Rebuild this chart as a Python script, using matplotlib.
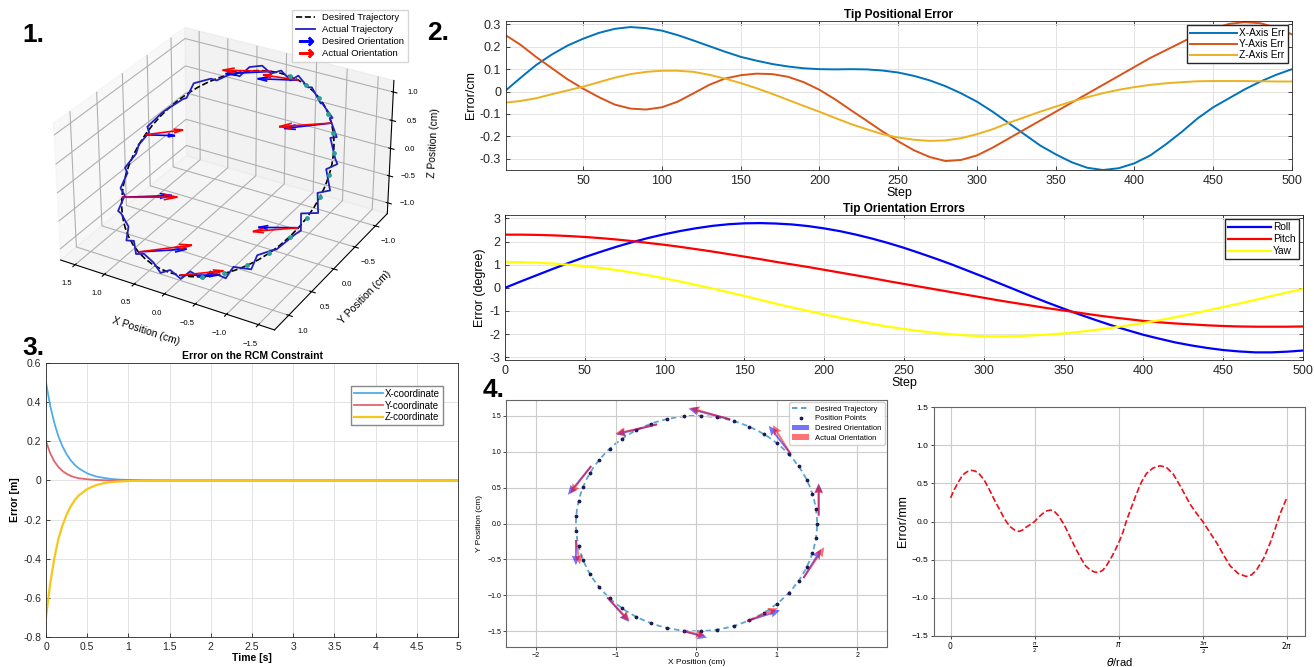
import matplotlib.pyplot as plt
import numpy as np
from matplotlib.lines import Line2D
from matplotlib.ticker import FuncFormatter

plt.rcParams['font.family'] = ['Liberation Sans', 'DejaVu Sans']

# ---------------- data ----------------
# panel 1: 3D circle (radius 1.5, plane tilted about x), sampled angles in degrees
traj_deg = [0, 6, 12, 18, 24, 30, 36, 42, 48, 54, 60, 66, 72, 78, 84, 90, 96, 102, 108, 114,
            120, 126, 132, 138, 144, 150, 156, 162, 168, 174, 180, 186, 192, 198, 204, 210,
            216, 222, 228, 234, 240, 246, 252, 258, 264, 270, 276, 282, 288, 294, 300, 306,
            312, 318, 324, 330, 336, 342, 348, 354, 360]
traj_radius = 1.5
traj_y_amp = 1.18
traj_z_amp = 0.92
# zig-zag deviation of the actual trajectory (cm)
act_dr = [0.00, -0.07, 0.09, -0.04, 0.08, -0.09, 0.03, 0.10, -0.06, 0.07, -0.08, 0.04, 0.09,
          -0.05, 0.06, -0.10, 0.08, -0.03, 0.09, -0.06, 0.05, -0.08, 0.10, -0.04, 0.07, -0.07,
          0.03, 0.09, -0.05, 0.08, -0.04, 0.07, -0.09, 0.04, 0.10, -0.06, 0.05, -0.03, 0.09,
          -0.07, 0.04, -0.10, 0.07, -0.03, 0.09, -0.05, 0.08, -0.08, 0.04, 0.10, -0.04, 0.06,
          -0.09, 0.03, 0.08, -0.06, 0.05, -0.04, 0.07, -0.05, 0.00]
act_dz = [0.00, 0.06, -0.05, 0.08, -0.07, 0.04, -0.09, 0.05, 0.07, -0.06, 0.03, -0.08, 0.06,
          0.09, -0.04, 0.05, -0.07, 0.08, -0.03, 0.06, -0.09, 0.04, -0.05, 0.08, -0.06, 0.07,
          -0.08, 0.03, 0.09, -0.05, 0.06, -0.07, 0.05, -0.04, 0.08, -0.09, 0.06, 0.07, -0.05,
          0.04, -0.08, 0.06, -0.03, 0.09, -0.06, 0.05, -0.07, 0.04, 0.08, -0.05, 0.07, -0.09,
          0.03, 0.06, -0.08, 0.05, -0.04, 0.07, -0.06, 0.04, 0.00]
teal_deg = [96, 108, 120, 132, 144, 156, 168, 180, 192, 204, 216, 228, 240, 252]
# orientation arrows: angle on circle, desired (dx, dy, dz), actual (dx, dy, dz)
arrow_deg = [84, 102, 138, 198, 6, 330, 294, 264]
arrow_des = [(0.55, 0.30, 0.00), (0.50, 0.25, 0.05), (0.55, 0.30, -0.05), (0.45, 0.25, 0.05),
             (-0.35, -0.20, -0.05), (-0.60, -0.30, 0.00), (-0.55, -0.30, 0.00), (-0.45, -0.20, 0.00)]
arrow_act = [(0.60, 0.30, 0.05), (0.45, 0.20, 0.10), (0.60, 0.35, 0.00), (0.50, 0.30, 0.00),
             (-0.45, -0.25, 0.05), (-0.65, -0.35, -0.05), (-0.60, -0.35, 0.05), (-0.50, -0.25, 0.05)]

# panel 2: tip errors (every 10 steps)
steps = list(range(0, 501, 10))
x_err = [0.0, 0.06, 0.118, 0.165, 0.205, 0.236, 0.262, 0.28, 0.288, 0.283, 0.272, 0.252,
         0.228, 0.203, 0.178, 0.155, 0.138, 0.123, 0.112, 0.104, 0.100, 0.099, 0.100, 0.099,
         0.094, 0.085, 0.070, 0.050, 0.024, -0.008, -0.045, -0.09, -0.14, -0.19, -0.24,
         -0.28, -0.315, -0.34, -0.35, -0.342, -0.32, -0.285, -0.235, -0.18, -0.12, -0.07,
         -0.03, 0.01, 0.045, 0.075, 0.10]
y_err = [0.255, 0.21, 0.155, 0.105, 0.055, 0.013, -0.025, -0.058, -0.076, -0.08, -0.07,
         -0.045, -0.008, 0.03, 0.058, 0.073, 0.08, 0.078, 0.066, 0.042, 0.008, -0.035, -0.083,
         -0.13, -0.178, -0.222, -0.262, -0.292, -0.31, -0.305, -0.285, -0.25, -0.21, -0.17,
         -0.13, -0.09, -0.05, -0.01, 0.03, 0.07, 0.11, 0.15, 0.185, 0.22, 0.255, 0.28, 0.302,
         0.31, 0.305, 0.285, 0.255]
z_err = [-0.05, -0.042, -0.03, -0.012, 0.005, 0.022, 0.042, 0.062, 0.078, 0.088, 0.093,
         0.093, 0.088, 0.075, 0.058, 0.038, 0.015, -0.01, -0.037, -0.064, -0.09, -0.118,
         -0.145, -0.168, -0.19, -0.205, -0.215, -0.22, -0.218, -0.208, -0.19, -0.168, -0.14,
         -0.115, -0.09, -0.067, -0.045, -0.025, -0.007, 0.008, 0.02, 0.03, 0.037, 0.042,
         0.046, 0.047, 0.047, 0.047, 0.046, 0.045, 0.045]
roll = [0.0, 0.28, 0.55, 0.82, 1.08, 1.33, 1.56, 1.78, 1.98, 2.16, 2.32, 2.46, 2.58, 2.68,
        2.75, 2.79, 2.8, 2.78, 2.74, 2.67, 2.57, 2.45, 2.3, 2.13, 1.94, 1.73, 1.5, 1.26, 1.01,
        0.74, 0.47, 0.19, -0.09, -0.37, -0.64, -0.9, -1.15, -1.39, -1.62, -1.83, -2.03, -2.2,
        -2.36, -2.49, -2.6, -2.69, -2.75, -2.79, -2.79, -2.76, -2.71]
pitch = [2.3, 2.3, 2.29, 2.27, 2.24, 2.2, 2.15, 2.09, 2.02, 1.94, 1.86, 1.77, 1.67, 1.57,
         1.46, 1.35, 1.24, 1.12, 1.01, 0.9, 0.78, 0.66, 0.54, 0.42, 0.29, 0.17, 0.05, -0.07,
         -0.19, -0.31, -0.43, -0.55, -0.66, -0.77, -0.88, -0.98, -1.08, -1.18, -1.27, -1.35,
         -1.43, -1.49, -1.54, -1.58, -1.62, -1.65, -1.67, -1.68, -1.68, -1.68, -1.67]
yaw = [1.12, 1.11, 1.09, 1.05, 1.0, 0.94, 0.86, 0.77, 0.66, 0.54, 0.41, 0.27, 0.12, -0.03,
       -0.19, -0.35, -0.52, -0.69, -0.85, -1.0, -1.15, -1.29, -1.43, -1.56, -1.68, -1.78,
       -1.87, -1.95, -2.01, -2.06, -2.09, -2.1, -2.09, -2.06, -2.02, -1.97, -1.9, -1.82,
       -1.73, -1.63, -1.52, -1.4, -1.27, -1.13, -0.98, -0.83, -0.68, -0.52, -0.36, -0.2,
       -0.05]

# panel 3: RCM constraint error
t_rcm = [0, 0.05, 0.1, 0.15, 0.2, 0.25, 0.3, 0.35, 0.4, 0.5, 0.6, 0.7, 0.8, 0.9, 1.0, 1.2,
         1.5, 5.0]
x_rcm = [0.5, 0.384, 0.295, 0.226, 0.174, 0.134, 0.103, 0.079, 0.061, 0.036, 0.021, 0.013,
         0.007, 0.004, 0.003, 0.001, 0.0, 0.0]
y_rcm = [0.2, 0.14, 0.098, 0.069, 0.048, 0.034, 0.023, 0.016, 0.011, 0.006, 0.003, 0.001,
         0.0, 0.0, 0.0, 0.0, 0.0, 0.0]
z_rcm = [-0.7, -0.53, -0.40, -0.30, -0.23, -0.175, -0.132, -0.10, -0.076, -0.044, -0.025,
         -0.014, -0.008, -0.005, -0.003, -0.001, 0.0, 0.0]

# panel 4 left: xy circle, position points and orientation arrows
pos_deg = [0, 8, 16, 24, 32, 40, 48, 56, 64, 72, 80, 88, 96, 104, 112, 120, 128, 136, 144,
           152, 160, 168, 176, 184, 192, 200, 208, 216, 224, 232, 240, 248, 256, 264, 272,
           280, 288, 296, 304, 312, 320, 328, 336, 344, 352]
q_x = [0.42, -0.49, -1.31, -1.50, -1.11, -0.16, 0.63, 1.33, 1.52, 1.17]
q_y = [1.45, 1.38, 0.80, -0.23, -1.03, -1.50, -1.36, -0.76, 0.11, 0.97]
des_u = [-0.52, -0.51, -0.29, 0.0, 0.27, 0.29, 0.41, 0.22, 0.0, -0.27]
des_v = [0.15, -0.14, -0.40, -0.35, -0.34, -0.09, 0.15, 0.40, 0.45, 0.39]
act_u = [-0.50, -0.52, -0.26, 0.05, 0.28, 0.27, 0.38, 0.26, 0.0, -0.22]
act_v = [0.16, -0.13, -0.38, -0.34, -0.33, -0.06, 0.18, 0.43, 0.44, 0.40]

# panel 4 right: error along the circle
theta_pts = [0.0, 0.07, 0.14, 0.2, 0.26, 0.33, 0.39, 0.46, 0.54, 0.63, 0.73, 0.82, 0.92,
             1.01, 1.10, 1.19, 1.28, 1.35, 1.42, 1.50, 1.57, 1.65, 1.73, 1.80, 1.87, 1.94,
             2.01, 2.12, 2.23, 2.34, 2.45, 2.52, 2.60, 2.68, 2.76, 2.84, 2.91, 3.02, 3.14,
             3.22, 3.29, 3.38, 3.47, 3.56, 3.66, 3.78, 3.91, 4.03, 4.16, 4.31, 4.47, 4.59,
             4.71, 4.84, 4.97, 5.10, 5.22, 5.37, 5.52, 5.62, 5.72, 5.85, 5.97, 6.07, 6.16,
             6.22, 6.28]
err_mm = [0.31, 0.42, 0.51, 0.58, 0.63, 0.66, 0.67, 0.66, 0.62, 0.54, 0.41, 0.28, 0.15,
          0.03, -0.06, -0.11, -0.13, -0.11, -0.07, -0.035, 0.0, 0.06, 0.11, 0.14, 0.15, 0.13,
          0.08, -0.04, -0.20, -0.36, -0.50, -0.58, -0.63, -0.66, -0.67, -0.64, -0.58, -0.45,
          -0.28, -0.14, 0.02, 0.19, 0.36, 0.51, 0.63, 0.70, 0.73, 0.71, 0.62, 0.44, 0.23, 0.11,
          0.0, -0.14, -0.28, -0.44, -0.58, -0.68, -0.72, -0.70, -0.63, -0.48, -0.28, -0.08,
          0.11, 0.21, 0.31]


def rect(x0, y0, x1, y1):
    return [x0 / 1314, 1 - y1 / 667, (x1 - x0) / 1314, (y1 - y0) / 667]


def matlab_fmt(v, pos):
    s = '%g' % round(v, 6)
    return '0' if s == '-0' else s


def matlab_style(ax, size=9):
    ax.grid(True, color='#e3e3e3', linewidth=0.7)
    ax.set_axisbelow(True)
    ax.tick_params(direction='in', top=True, right=True, length=3, width=0.6,
                   colors='#262626', labelsize=size)
    for s in ax.spines.values():
        s.set_color('#262626')
        s.set_linewidth(0.6)
    ax.xaxis.set_major_formatter(FuncFormatter(matlab_fmt))
    ax.yaxis.set_major_formatter(FuncFormatter(matlab_fmt))


fig = plt.figure(figsize=(13.14, 6.67), dpi=100)

# ---------------- panel 1 ----------------
ax1 = fig.add_axes(rect(0, 0, 445, 350), projection='3d')
ax1.view_init(elev=30, azim=120)
ax1.set_box_aspect((4.7, 4.7, 3), zoom=1.05)
t = np.deg2rad(traj_deg)
cx = traj_radius * np.cos(t)
cy = -traj_y_amp * np.sin(t)
cz = traj_z_amp * np.sin(t)
ax1.plot(cx, cy, cz, '--', color='black', lw=1.2, label='Desired Trajectory')
ax1.plot(cx * (1 + np.array(act_dr) / traj_radius), cy, cz + np.array(act_dz),
         color='#2020c0', lw=1.3, label='Actual Trajectory')
tt = np.deg2rad(teal_deg)
ax1.scatter(traj_radius * np.cos(tt), -traj_y_amp * np.sin(tt), traj_z_amp * np.sin(tt),
            color='#2aa198', s=6, depthshade=False)
ta = np.deg2rad(arrow_deg)
ax_ = traj_radius * np.cos(ta)
ay_ = -traj_y_amp * np.sin(ta)
az_ = traj_z_amp * np.sin(ta)
du, dv, dw = zip(*arrow_des)
au, av, aw = zip(*arrow_act)
ax1.quiver(ax_, ay_, az_, du, dv, dw, color='blue', lw=1.2, arrow_length_ratio=0.25)
ax1.quiver(ax_, ay_, az_, au, av, aw, color='red', lw=1.2, arrow_length_ratio=0.25)
ax1.set_xlim(-1.75, 1.75)
ax1.set_ylim(-1.3, 1.3)
ax1.set_zlim(-1.2, 1.2)
ax1.set_xticks([-1.5, -1.0, -0.5, 0.0, 0.5, 1.0, 1.5])
ax1.set_yticks([-1.0, -0.5, 0.0, 0.5, 1.0])
ax1.set_zticks([-1.0, -0.5, 0.0, 0.5, 1.0])
ax1.tick_params(labelsize=5.5, pad=0)
ax1.set_xlabel('X Position (cm)', fontsize=7.5, labelpad=-2)
ax1.set_ylabel('Y Position (cm)', fontsize=7.5, labelpad=-2)
ax1.set_zlabel('Z Position (cm)', fontsize=7.5, labelpad=-3)
handles1 = [Line2D([], [], ls='--', color='black', lw=1.2),
            Line2D([], [], color='#2020c0', lw=1.3),
            Line2D([], [], ls='none', marker=r'$\rightarrow$', color='blue', ms=10),
            Line2D([], [], ls='none', marker=r'$\rightarrow$', color='red', ms=10)]
fig.legend(handles1, ['Desired Trajectory', 'Actual Trajectory', 'Desired Orientation',
                      'Actual Orientation'],
           loc='upper right', bbox_to_anchor=(413 / 1314, 1 - 5 / 667), fontsize=6.8,
           frameon=True, fancybox=False, borderpad=0.4, labelspacing=0.3,
           handlelength=2.0, edgecolor='#cccccc')

# ---------------- panel 2 top ----------------
ax2 = fig.add_axes(rect(506, 21, 1292, 170))
ax2.plot(steps, x_err, color='#0072BD', lw=1.4, label='X-Axis Err')
ax2.plot(steps, y_err, color='#D95319', lw=1.4, label='Y-Axis Err')
ax2.plot(steps, z_err, color='#EDB120', lw=1.4, label='Z-Axis Err')
ax2.set_xlim(1, 500)
ax2.set_ylim(-0.35, 0.315)
ax2.set_xticks(range(50, 501, 50))
ax2.set_yticks([-0.3, -0.2, -0.1, 0, 0.1, 0.2, 0.3])
matlab_style(ax2, 9)
ax2.set_title('Tip Positional Error', fontsize=8.5, weight='bold', pad=2)
ax2.set_xlabel('Step', fontsize=9, labelpad=0)
ax2.set_ylabel('Error/cm', fontsize=9, labelpad=2)
ax2.legend(loc='upper right', fontsize=7.3, fancybox=False, edgecolor='#262626',
           borderpad=0.3, labelspacing=0.1, handlelength=4.6, handletextpad=0.2,
           borderaxespad=0.4, framealpha=1)

# ---------------- panel 2 bottom ----------------
ax3 = fig.add_axes(rect(505, 215, 1303, 360))
ax3.plot(steps, roll, color='#0000ff', lw=1.6, label='Roll')
ax3.plot(steps, pitch, color='#ff0000', lw=1.6, label='Pitch')
ax3.plot(steps, yaw, color='#ffff00', lw=1.6, label='Yaw')
ax3.set_xlim(0, 500)
ax3.set_ylim(-3.12, 3.15)
ax3.set_xticks(range(0, 501, 50))
ax3.set_yticks(range(-3, 4))
matlab_style(ax3, 9)
ax3.set_title('Tip Orientation Errors', fontsize=8.5, weight='bold', pad=2)
ax3.set_xlabel('Step', fontsize=9, labelpad=0)
ax3.set_ylabel('Error (degree)', fontsize=9, labelpad=2)
ax3.legend(loc='upper right', fontsize=7.3, fancybox=False, edgecolor='#262626',
           borderpad=0.3, labelspacing=0.2, handlelength=4.3, handletextpad=0.2,
           borderaxespad=0.4, framealpha=1)

# ---------------- panel 3 ----------------
ax4 = fig.add_axes(rect(46, 363, 458, 637))
ax4.plot(t_rcm, x_rcm, color='#4DAEEA', lw=1.3, label='X-coordinate')
ax4.plot(t_rcm, y_rcm, color='#E3646B', lw=1.3, label='Y-coordinate')
ax4.plot(t_rcm, z_rcm, color='#F5C71A', lw=1.6, label='Z-coordinate')
ax4.set_xlim(0, 5)
ax4.set_ylim(-0.8, 0.6)
ax4.set_xticks(np.arange(0, 5.01, 0.5))
ax4.set_yticks([-0.8, -0.6, -0.4, -0.2, 0, 0.2, 0.4, 0.6])
matlab_style(ax4, 7.5)
ax4.tick_params(top=False, right=False)
ax4.set_title('Error on the RCM Constraint', fontsize=7.5, weight='bold', pad=3)
ax4.set_xlabel('Time [s]', fontsize=7.5, weight='bold', labelpad=1)
ax4.set_ylabel('Error [m]', fontsize=7.5, weight='bold', labelpad=2)
ax4.legend(loc='upper right', bbox_to_anchor=(0.975, 0.935), fontsize=7, fancybox=False,
           edgecolor='#888888', borderpad=0.3, labelspacing=0.2, handlelength=3.0,
           handletextpad=0.2, framealpha=1)

# ---------------- panel 4 left ----------------
ax5 = fig.add_axes(rect(506, 400, 887, 647))
pr = np.deg2rad(pos_deg)
circle = plt.Circle((0, 0), traj_radius, fill=False, ls=(0, (3, 2)), color='#4a9cc9',
                    lw=1.3, alpha=0.9)
ax5.add_patch(circle)
ax5.plot([], [], ls=(0, (3, 2)), color='#4a9cc9', lw=1.3, label='Desired Trajectory')
ax5.scatter(traj_radius * np.cos(pr), traj_radius * np.sin(pr), s=3, color='#1b1b55',
            zorder=3, label='Position Points')
ax5.quiver(q_x, q_y, des_u, des_v, angles='xy', scale_units='xy', scale=1, color='blue',
           alpha=0.55, width=0.005, headwidth=4.5, headlength=5, headaxislength=4.5,
           zorder=4, label='Desired Orientation')
ax5.quiver(q_x, q_y, act_u, act_v, angles='xy', scale_units='xy', scale=1, color='red',
           alpha=0.55, width=0.005, headwidth=4.5, headlength=5, headaxislength=4.5,
           zorder=4, label='Actual Orientation')
ax5.set_xlim(-2.37, 2.37)
ax5.set_ylim(-1.72, 1.72)
ax5.set_xticks([-2, -1, 0, 1, 2])
ax5.set_yticks([-1.5, -1.0, -0.5, 0.0, 0.5, 1.0, 1.5])
ax5.grid(True, color='#cccccc', lw=0.8)
ax5.tick_params(labelsize=5, length=2, width=0.5, pad=1.5)
for s in ax5.spines.values():
    s.set_color('#666666')
ax5.set_xlabel('X Position (cm)', fontsize=6, labelpad=0)
ax5.set_ylabel('Y Position (cm)', fontsize=6, labelpad=3)
ax5.legend(loc='upper right', fontsize=5.5, borderpad=0.4, labelspacing=0.3,
           handlelength=2.2, framealpha=0.9, borderaxespad=0.3)

# ---------------- panel 4 right ----------------
ax6 = fig.add_axes(rect(934, 407, 1305, 636))
ax6.plot(theta_pts, err_mm, '--', color='#e8101a', lw=1.2)
ax6.set_xlim(-0.31, 6.62)
ax6.set_ylim(-1.5, 1.5)
ax6.set_xticks([0, np.pi / 2, np.pi, 3 * np.pi / 2, 2 * np.pi])
ax6.set_xticklabels([r'$0$', r'$\frac{\pi}{2}$', r'$\pi$', r'$\frac{3\pi}{2}$', r'$2\pi$'])
ax6.set_yticks([-1.5, -1.0, -0.5, 0.0, 0.5, 1.0, 1.5])
ax6.grid(True, color='#cccccc', lw=0.8)
ax6.tick_params(axis='y', labelsize=6, length=2, width=0.5, pad=2)
ax6.tick_params(axis='x', labelsize=5.5, length=2, width=0.5, pad=1)
for s in ax6.spines.values():
    s.set_color('#666666')
ax6.set_xlabel(r'$\theta$/rad', fontsize=8, labelpad=0)
ax6.set_ylabel('Error/mm', fontsize=9, labelpad=2)

# panel numbers
for lbl, px, py in [('1.', 33, 35), ('2.', 438, 33), ('3.', 33, 348), ('4.', 494, 390)]:
    fig.text(px / 1314, 1 - py / 667, lbl, fontsize=19, weight='bold', ha='center',
             va='center')

fig.savefig('out.png', dpi=100)
